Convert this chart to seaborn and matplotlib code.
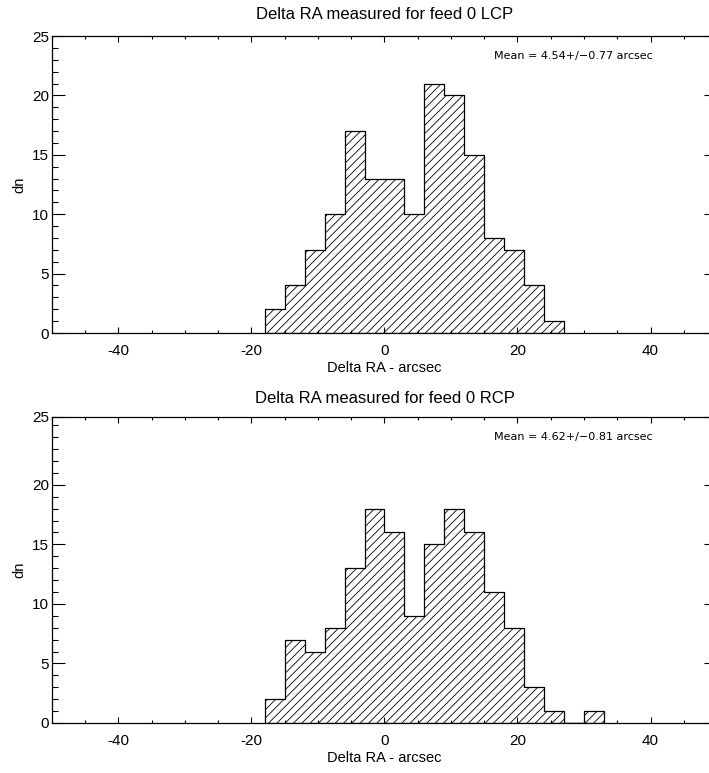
import numpy as np
import pandas as pd
import matplotlib
matplotlib.use("Agg")
import matplotlib.pyplot as plt
from matplotlib.ticker import MultipleLocator, FixedLocator, FixedFormatter
import seaborn as sns

# bin edges (width 3 arcsec) and counts
lcp_edges = list(range(-18, 28, 3))
lcp_counts = [2, 4, 7, 10, 17, 13, 13, 10, 21, 20, 15, 8, 7, 4, 1]

rcp_edges = list(range(-18, 34, 3))
rcp_counts = [2, 7, 6, 8, 13, 18, 16, 9, 15, 18, 16, 11, 8, 3, 1, 0, 1]

titles = ["Delta RA measured for feed 0 LCP", "Delta RA measured for feed 0 RCP"]
mean_labels = ["Mean = 4.54+/\u22120.77 arcsec", "Mean = 4.62+/\u22120.81 arcsec"]
y_tops = [25, 25.7]
title_pads = [12, 10]

sns.set_style("ticks")
plt.rcParams['font.family'] = ['Liberation Sans Narrow', 'Liberation Sans', 'DejaVu Sans']
plt.rcParams['hatch.linewidth'] = 0.6
plt.rcParams['axes.unicode_minus'] = False
for key in ['text.color', 'axes.labelcolor', 'xtick.color', 'ytick.color']:
    plt.rcParams[key] = 'black'

fig = plt.figure(figsize=(7.09, 7.73), dpi=100)
ax_top = fig.add_axes([0.0733, 0.5692, 0.938, 0.3842])
ax_bot = fig.add_axes([0.0733, 0.0647, 0.938, 0.3959])

panels = [(ax_top, lcp_edges, lcp_counts), (ax_bot, rcp_edges, rcp_counts)]

for i, (ax, edges, counts) in enumerate(panels):
    centres = [e + 1.5 for e in edges[:-1]]
    df = pd.DataFrame({"centre": centres, "n": counts})
    sns.histplot(data=df, x="centre", weights="n", bins=edges, element="step",
                 fill=True, ax=ax)
    for coll in ax.collections:
        coll.set_facecolor("none")
        coll.set_edgecolor("black")
        coll.set_hatch("////")
        coll.set_linewidth(0.9)
    for ln in ax.lines:
        ln.set_color("black")
        ln.set_linewidth(0.9)

    ax.set_xlim(-50, 50)
    ax.set_ylim(0, y_tops[i])
    ax.xaxis.set_major_locator(MultipleLocator(20))
    ax.xaxis.set_minor_locator(MultipleLocator(5))
    yt = [0, 5, 10, 15, 20, y_tops[i]]
    ax.yaxis.set_major_locator(FixedLocator(yt))
    ax.yaxis.set_major_formatter(FixedFormatter(["0", "5", "10", "15", "20", "25"]))
    ax.yaxis.set_minor_locator(MultipleLocator(1))
    ax.tick_params(axis="x", which="major", direction="in", length=4.2, width=0.8,
                   top=True, labelsize=11, pad=8)
    ax.tick_params(axis="x", which="minor", direction="in", length=2.2, width=0.8,
                   top=True, bottom=True)
    ax.tick_params(axis="y", which="major", direction="in", length=9.4, width=0.8,
                   right=True, labelsize=11, pad=2)
    ax.tick_params(axis="y", which="minor", direction="in", length=4.5, width=0.8,
                   left=True, right=True)
    for sp in ax.spines.values():
        sp.set_visible(True)
        sp.set_linewidth(0.9)
        sp.set_color("black")

    ax.set_title(titles[i], fontsize=12, pad=title_pads[i])
    ax.set_xlabel("Delta RA - arcsec", fontsize=10.5, labelpad=2)
    ax.set_ylabel("dn", fontsize=10.5, labelpad=4)
    ax.text(16.4, y_tops[i] - 1.7, mean_labels[i], fontsize=8,
            family=["DejaVu Sans"], ha="left", va="center")

fig.savefig("out.png", dpi=100)
